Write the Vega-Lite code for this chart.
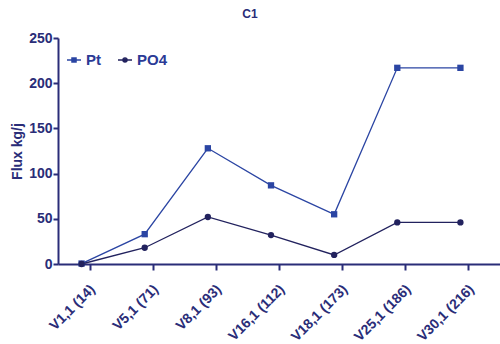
{
  "$schema": "https://vega.github.io/schema/vega-lite/v6.json",
  "autosize": {"type": "none"},
  "padding": {"left": 58, "top": 38, "right": 0, "bottom": 80},
  "width": 442,
  "height": 226,
  "background": "white",
  "title": {"text": "C1", "fontSize": 12, "font": "Liberation Sans", "fontWeight": "bold", "color": "#2a2d78", "offset": 10, "dx": -29},
  "config": {"view": {"stroke": null}, "font": "Liberation Sans"},
  "data": {"values": [
    {"s": "V1,1 (14)", "series": "Pt", "v": 0.5},
    {"s": "V5,1 (71)", "series": "Pt", "v": 33},
    {"s": "V8,1 (93)", "series": "Pt", "v": 128},
    {"s": "V16,1 (112)", "series": "Pt", "v": 87},
    {"s": "V18,1 (173)", "series": "Pt", "v": 55},
    {"s": "V25,1 (186)", "series": "Pt", "v": 217},
    {"s": "V30,1 (216)", "series": "Pt", "v": 217},
    {"s": "V1,1 (14)", "series": "PO4", "v": 0},
    {"s": "V5,1 (71)", "series": "PO4", "v": 18},
    {"s": "V8,1 (93)", "series": "PO4", "v": 52},
    {"s": "V16,1 (112)", "series": "PO4", "v": 32},
    {"s": "V18,1 (173)", "series": "PO4", "v": 10},
    {"s": "V25,1 (186)", "series": "PO4", "v": 46},
    {"s": "V30,1 (216)", "series": "PO4", "v": 46}
  ]},
  "encoding": {
    "x": {"field": "s", "type": "nominal", "sort": null, "scale": {"type": "point", "padding": 0.5},
      "axis": {"title": null, "labelAngle": -45, "labelFontSize": 14, "labelFontWeight": "bold", "labelColor": "#2a2d78", "domainColor": "#2a2d78", "domainWidth": 2, "tickColor": "#2a2d78", "tickWidth": 2, "tickSize": 6, "labelPadding": 12, "labelOffset": -2}},
    "y": {"field": "v", "type": "quantitative", "scale": {"domain": [0, 250], "nice": false},
      "axis": {"title": "Flux kg/j", "titleFontSize": 14, "titleFontWeight": "bold", "titleColor": "#2a2d78", "titlePadding": 4, "values": [0, 50, 100, 150, 200, 250], "grid": false, "labelFontSize": 14, "labelFontWeight": "bold", "labelColor": "#2a2d78", "domainColor": "#2a2d78", "domainWidth": 2, "tickColor": "#2a2d78", "tickWidth": 2, "tickSize": 5, "labelPadding": 1}},
    "color": {"field": "series", "type": "nominal", "sort": ["Pt", "PO4"], "scale": {"domain": ["Pt", "PO4"], "range": ["#2b45a3", "#22225e"]},
      "legend": {"title": null, "orient": "none", "legendX": 8, "legendY": 14, "direction": "horizontal", "labelFontSize": 15, "labelFontWeight": "bold", "labelColor": "#2b3a96", "symbolSize": 196, "symbolStrokeWidth": 1.3, "columnPadding": 14, "labelOffset": 4,
        "encode": {"symbols": {"update": {"shape": {"signal": "datum.value == 'Pt' ? 'M-1,0H1M-0.3,-0.3H0.3V0.3H-0.3Z' : 'M-1,0H1M0.3,0A0.3,0.3 0 1,1 -0.3,0A0.3,0.3 0 1,1 0.3,0Z'"}, "stroke": {"signal": "datum.value == 'Pt' ? '#2b45a3' : '#22225e'"}, "fill": {"signal": "datum.value == 'Pt' ? '#2b45a3' : '#22225e'"}}}}}}
  },
  "layer": [
    {"mark": {"type": "line", "strokeWidth": 1.3, "xOffset": -8}},
    {"transform": [{"filter": "datum.series == 'Pt'"}], "mark": {"type": "point", "filled": true, "size": 40, "opacity": 1, "shape": "square", "xOffset": -8}},
    {"transform": [{"filter": "datum.series == 'PO4'"}], "mark": {"type": "point", "filled": true, "size": 40, "opacity": 1, "shape": "circle", "xOffset": -8}}
  ]
}
